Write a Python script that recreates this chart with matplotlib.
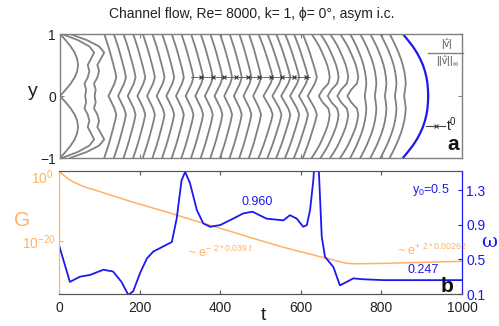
import numpy as np
import matplotlib
matplotlib.use('Agg')
import matplotlib.pyplot as plt
from matplotlib.lines import Line2D

plt.rcParams['font.family'] = ['Liberation Sans', 'DejaVu Sans']
plt.rcParams['mathtext.fontset'] = 'custom'
plt.rcParams['mathtext.rm'] = 'Liberation Sans'
plt.rcParams['mathtext.it'] = 'Liberation Sans:italic'

# ---- panel a: |v|/||v|| profiles, shifted to their time
y_half = [0.0, 0.1, 0.2, 0.3, 0.4, 0.5, 0.6, 0.7, 0.8, 0.9, 1.0]
shape_asym = [0.00, 0.31, 0.59, 0.81, 0.95, 1.00, 0.95, 0.81, 0.59, 0.31, 0.00]
shape_wig = [0.72, 0.75, 0.70, 0.80, 0.85, 0.80, 0.90, 1.00, 0.85, 0.50, 0.00]
shape_chev = [0.35, 0.60, 0.85, 1.00, 0.90, 0.77, 0.63, 0.49, 0.34, 0.17, 0.00]
shape_kink = [0.40, 0.60, 0.92, 1.00, 0.95, 0.86, 0.73, 0.58, 0.42, 0.22, 0.00]
shape_late = [0.90, 0.96, 1.00, 0.97, 0.91, 0.82, 0.70, 0.55, 0.39, 0.20, 0.00]
shape_final = [1.00, 0.99, 0.97, 0.93, 0.87, 0.79, 0.68, 0.55, 0.39, 0.20, 0.00]
shapes = {'asym': shape_asym, 'wig': shape_wig, 'chev': shape_chev,
          'kink': shape_kink, 'late': shape_late}

prof_t0 = [0, 5, 25, 110, 134, 158, 182, 206, 230, 254, 278, 302, 326, 350, 374,
           398, 422, 446, 470, 494, 516, 538, 560, 582, 604, 626, 648, 672, 697,
           722, 747, 772, 797, 820]
prof_shape = ['asym', 'wig', 'wig'] + ['chev'] * 16 + ['chev'] * 6 + ['kink'] * 4 + ['late'] * 5
prof_amp = [45, 80, 85] + [30] * 16 + [35] * 6 + [45] * 4 + [40] * 5
final_t0 = 853
final_amp = 63

cross_t = [350, 380, 409, 437, 467, 496, 524, 553, 583, 613]
cross_line_t = [325, 623]
cross_y = 0.31

# ---- panel b
G_t = [0, 5, 27, 60, 102, 184, 268, 350, 432, 474, 560, 655, 700, 715, 740, 800, 900, 1000]
G_exp = [0, -0.6, -2.6, -4.4, -5.9, -8.9, -11.7, -14.6, -17.4, -18.9, -21.8, -24.6,
         -25.9, -26.3, -26.4, -26.3, -26.0, -25.7]

w_t = [0, 27, 52, 77, 110, 134, 155, 172, 184, 201, 218, 234, 259, 280, 292, 304, 313,
       325, 342, 358, 375, 400, 432, 457, 480, 515, 557, 573, 590, 606, 615, 623, 631,
       638, 645, 652, 660, 681, 697, 714, 730, 755, 805, 900, 1000]
w_val = [0.665, 0.24, 0.30, 0.32, 0.38, 0.36, 0.24, 0.09, 0.13, 0.34, 0.51, 0.59, 0.65,
         0.70, 0.97, 1.41, 1.51, 1.38, 1.07, 0.915, 0.876, 0.896, 0.97, 1.03, 1.05, 0.97,
         0.95, 1.01, 0.97, 0.876, 0.896, 1.07, 1.41, 1.9, 1.5, 0.76, 0.53, 0.41, 0.20,
         0.24, 0.28, 0.27, 0.26, 0.26, 0.26]

xticks = [0, 200, 400, 600, 800, 1000]
w_ticks = [0.1, 0.5, 0.9, 1.3]

gray = '#808080'
orange = '#ffb265'
blue = '#1a1aee'
dark = '#222222'

W, H = 499, 326
fig = plt.figure(figsize=(W / 100, H / 100), dpi=100)


def fx(x):
    return x / W


def fy(y):
    return 1 - y / H


ax1 = fig.add_axes([fx(60), fy(158), fx(462) - fx(60), fy(34) - fy(158)])
y_full = [-v for v in y_half[::-1]] + y_half[1:]
for t0, sh, amp in zip(prof_t0, prof_shape, prof_amp):
    f = shapes[sh]
    f_full = np.array(f[::-1] + f[1:])
    ax1.plot(t0 + amp * f_full, y_full, color=gray, lw=1.3)
ff = np.array(shape_final[::-1] + shape_final[1:])
ax1.plot(final_t0 + final_amp * ff, y_full, color=blue, lw=1.6)
ax1.plot(cross_line_t, [cross_y, cross_y], color='#555555', lw=0.6)
ax1.plot(cross_t, [cross_y] * len(cross_t), 'x', color='#333333', ms=3.5, mew=0.8)
ax1.set_xlim(0, 1000)
ax1.set_ylim(-1, 1)
ax1.set_xticks(xticks[1:-1])
ax1.set_xticklabels([])
ax1.set_yticks([-1, 0, 1])
ax1.set_yticklabels(['\u22121', '0', '1'], fontsize=10)
ax1.tick_params(direction='in', length=3, top=True, right=True, colors=gray,
                labelcolor=dark, pad=3)
for s in ax1.spines.values():
    s.set_color(gray)
    s.set_linewidth(1.0)

ax2 = fig.add_axes([fx(59), fy(294), fx(462) - fx(59), fy(171) - fy(294)])
ax2.semilogy(G_t, 10.0 ** np.array(G_exp), color=orange, lw=1.1)
ax2.set_xlim(0, 1000)
ax2.set_ylim(1e-35, 1e0)
ax2.set_xticks(xticks)
ax2.set_xticklabels([str(v) for v in xticks], fontsize=10, color=dark)
ax2.set_yticks([1e-20, 1e0])
ax2.set_yticklabels([])
ax2.minorticks_off()
ax2.tick_params(axis='x', direction='in', length=3, top=True, colors='#555555',
                labelcolor=dark, pad=5)
ax2.tick_params(axis='y', direction='in', length=3, colors=orange)
ax2.spines['left'].set_color(orange)
ax2.spines['top'].set_color('#555555')
ax2.spines['bottom'].set_color('#555555')

ax3 = ax2.twinx()
ax3.plot(w_t, w_val, color=blue, lw=1.3)
ax3.set_ylim(0.1, 1.52)
ax3.set_yticks(w_ticks)
ax3.set_yticklabels([str(v) for v in w_ticks], fontsize=10, color=blue)
ax3.tick_params(axis='y', direction='in', length=3, colors=blue, labelcolor=blue, pad=3)
ax3.spines['right'].set_color(blue)
ax3.spines['left'].set_color(orange)
ax3.spines['top'].set_color('#555555')
ax3.spines['bottom'].set_color('#555555')

# texts
fig.text(fx(252), fy(14), 'Channel flow, Re= 8000, k= 1, \u03d5= 0\u00b0, asym i.c.',
         ha='center', va='center', fontsize=10, color=dark)
fig.text(fx(33), fy(92), 'y', ha='center', va='center', fontsize=14, color=dark)
fig.text(fx(22), fy(220), 'G', ha='center', va='center', fontsize=15, color=orange)
fig.text(fx(54), fy(178), r'$10^{0}$', ha='right', va='center', fontsize=10, color=orange)
fig.text(fx(56), fy(243), r'$10^{-20}$', ha='right', va='center', fontsize=10, color=orange)
fig.text(fx(263), fy(316), 't', ha='center', va='center', fontsize=14, color=dark)
fig.text(fx(489), fy(242), '\u03c9', ha='center', va='center', fontsize=14,
         color=blue, family='DejaVu Serif')
fig.text(fx(453), fy(144), 'a', ha='center', va='center', fontsize=15,
         fontweight='bold', color='#111111')
fig.text(fx(447), fy(286), 'b', ha='center', va='center', fontsize=15,
         fontweight='bold', color='#111111')

fig.lines.append(Line2D([fx(428), fx(463)], [fy(53), fy(53)], color=gray, lw=1.0,
                        transform=fig.transFigure))
fig.text(fx(447), fy(45), r'$|\hat{\mathrm{v}}|$', ha='center', va='center',
         fontsize=7.5, color='#555555')
fig.text(fx(447), fy(62), r'$||\hat{\mathrm{v}}||_{\infty}$', ha='center', va='center',
         fontsize=7.5, color='#555555')
fig.lines.append(Line2D([fx(426), fx(445)], [fy(126), fy(126)], color='#444444', lw=0.8,
                        transform=fig.transFigure))
fig.lines.append(Line2D([fx(436)], [fy(126)], marker='x', color='#444444', ms=3.5,
                        mew=0.8, transform=fig.transFigure))
fig.text(fx(446), fy(125), r't$^{0}$', ha='left', va='center', fontsize=10, color=dark)

fig.text(fx(257), fy(202), '0.960', ha='center', va='center', fontsize=9, color=blue)
fig.text(fx(423), fy(270), '0.247', ha='center', va='center', fontsize=9, color=blue)
fig.text(fx(431), fy(190), r'y$_{0}$=0.5', ha='center', va='center', fontsize=9, color=blue)
fig.text(fx(188), fy(252), r'~ e$^{-\ 2*0.039\ t}$', ha='left', va='center',
         fontsize=9, color=orange)
fig.text(fx(397), fy(250), r'~ e$^{+\ 2*0.0026\ t}$', ha='left', va='center',
         fontsize=9, color=orange)

fig.savefig('out.png', dpi=100)
